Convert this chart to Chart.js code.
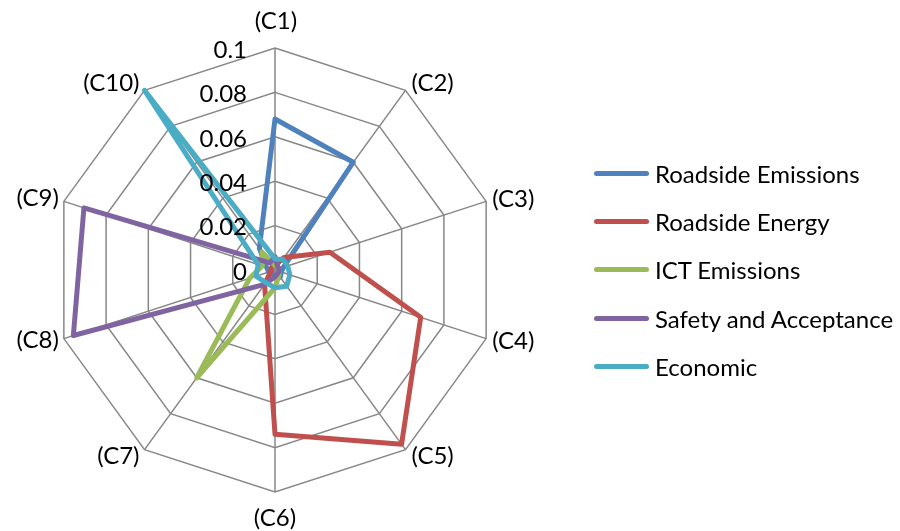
<!DOCTYPE html>
<html>
<head>
<meta charset="utf-8">
<script src="https://cdn.jsdelivr.net/npm/chart.js@4.4.0/dist/chart.umd.min.js"></script>
<style>
  html, body { margin: 0; padding: 0; background: #fff; }
  #wrap { position: relative; width: 900px; height: 531px; overflow: hidden; }
  #c { position: absolute; left: 0; top: 0; }
  #legend { position: absolute; left: 0; top: 0; font-family: Lato, "Open Sans", sans-serif; font-size: 24px; color: #000; }
  .item { position: absolute; left: 594px; height: 32px; display: flex; align-items: center; white-space: nowrap; transform: translateY(-50%); }
  .swatch { width: 55px; height: 5px; border-radius: 3px; margin-right: 6px; }
</style>
</head>
<body>
<div id="wrap">
  <canvas id="c" width="900" height="531"></canvas>
  <div id="legend"></div>
</div>
<script>
// Criteria on the radar axes
const categories = ['(C1)', '(C2)', '(C3)', '(C4)', '(C5)', '(C6)', '(C7)', '(C8)', '(C9)', '(C10)'];

// Weights per criterion for each perspective
const roadsideEmissions   = [0.068, 0.060, 0.004, 0.003, 0.004, 0.003, 0.002, 0.003, 0.004, 0.012];
const roadsideEnergy      = [0.002, 0.007, 0.026, 0.069, 0.097, 0.074, 0.008, 0.002, 0.002, 0.002];
const ictEmissions        = [0.002, 0.002, 0.002, 0.002, 0.003, 0.008, 0.060, 0.012, 0.006, 0.010];
const safetyAcceptance    = [0.006, 0.002, 0.002, 0.002, 0.002, 0.003, 0.008, 0.0955, 0.0905, 0.004];
const economic            = [0.005, 0.006, 0.006, 0.007, 0.009, 0.008, 0.007, 0.009, 0.008, 0.100];

const seriesNames  = ['Roadside Emissions', 'Roadside Energy', 'ICT Emissions', 'Safety and Acceptance', 'Economic'];
const seriesColors = ['#4F81BD', '#C0504D', '#9BBB59', '#8064A2', '#4BACC6'];

// Radial axis tick labels
const tickLabels = ['0', '0.02', '0.04', '0.06', '0.08', '0.1'];

const FONT = '24px Lato, "Open Sans", sans-serif';
const seriesValues = [roadsideEmissions, roadsideEnergy, ictEmissions, safetyAcceptance, economic];

// Axis text: value labels beside the C1 spoke and the category names around the web
const axisText = {
  id: 'axisText',
  afterDatasetsDraw(chart) {
    const s = chart.scales.r;
    const ctx = chart.ctx;
    ctx.save();
    ctx.font = FONT;
    ctx.fillStyle = '#000';
    ctx.textBaseline = 'middle';

    ctx.textAlign = 'right';
    s.ticks.forEach((t) => {
      const y = s.yCenter - s.getDistanceFromCenterForValue(t.value);
      ctx.fillText(t.label, s.xCenter - 28, y + 2);
    });

    const R = s.drawingArea;
    const dyRight = [-7, -2, 3, 7];
    chart.data.labels.forEach((lab, i) => {
      const p = s.getPointPosition(i, R);
      if (i === 0) {
        ctx.textAlign = 'center';
        ctx.fillText(lab, p.x + 1, p.y - 27);
      } else if (i === 5) {
        ctx.textAlign = 'center';
        ctx.fillText(lab, p.x, p.y + 26);
      } else if (i < 5) {
        ctx.textAlign = 'left';
        ctx.fillText(lab, p.x + 6, p.y + dyRight[i - 1]);
      } else {
        ctx.textAlign = 'right';
        ctx.fillText(lab, p.x - 5, p.y - dyRight[i - 6]);
      }
    });
    ctx.restore();
  }
};

new Chart(document.getElementById('c'), {
  type: 'radar',
  data: {
    labels: categories,
    datasets: seriesValues.map((vals, i) => ({
      label: seriesNames[i],
      data: vals,
      borderColor: seriesColors[i],
      backgroundColor: seriesColors[i],
      borderWidth: 5,
      borderJoinStyle: 'round',
      fill: false,
      pointRadius: 0,
      pointHoverRadius: 0,
      tension: 0,
      order: seriesValues.length - i
    }))
  },
  options: {
    responsive: false,
    animation: false,
    devicePixelRatio: 1,
    layout: { padding: { left: 53, right: 403, top: 48, bottom: 39 } },
    plugins: { legend: { display: false }, tooltip: { enabled: false } },
    scales: {
      r: {
        min: 0,
        max: 0.1,
        startAngle: 0,
        ticks: {
          display: false,
          stepSize: 0.02,
          callback: (v, idx) => tickLabels[idx]
        },
        grid: { color: '#878787', lineWidth: 1.5, circular: false },
        angleLines: { color: '#878787', lineWidth: 1.5 },
        pointLabels: { display: false }
      }
    }
  },
  plugins: [axisText]
});

// Legend entries
const rowsY = [173, 221, 269, 318, 366];
const legend = document.getElementById('legend');
seriesNames.forEach((name, i) => {
  const item = document.createElement('div');
  item.className = 'item';
  item.style.top = rowsY[i] + 'px';
  const sw = document.createElement('span');
  sw.className = 'swatch';
  sw.style.background = seriesColors[i];
  const tx = document.createElement('span');
  tx.textContent = name;
  item.appendChild(sw);
  item.appendChild(tx);
  legend.appendChild(item);
});
</script>
</body>
</html>
